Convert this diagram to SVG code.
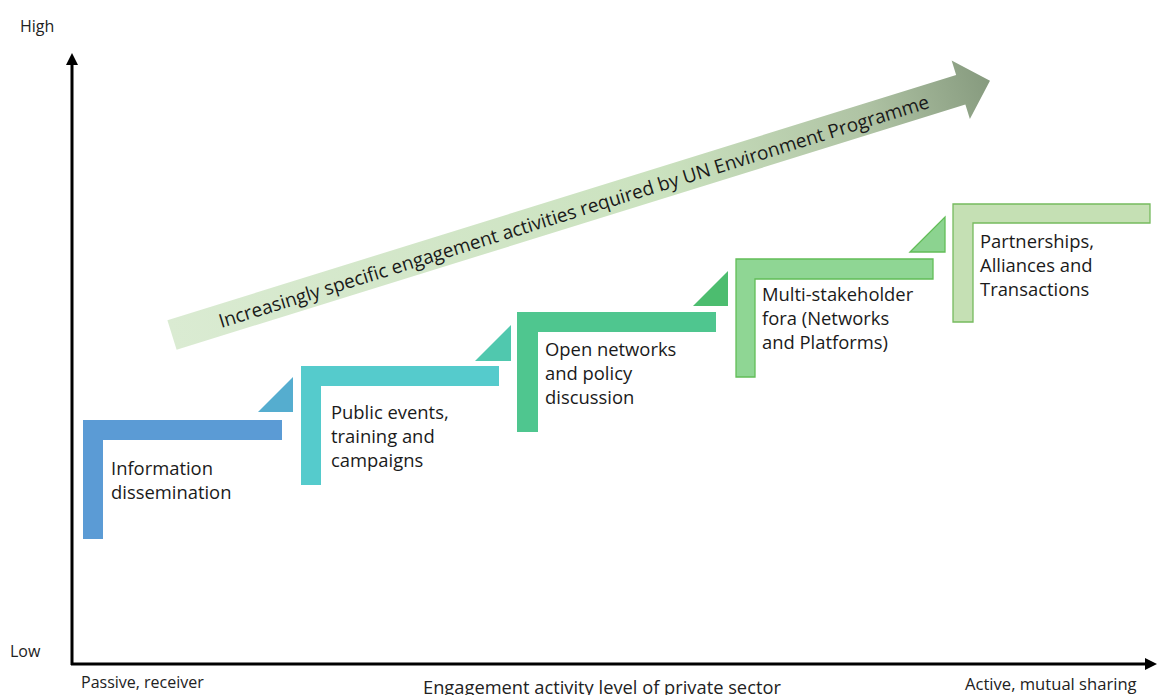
<svg xmlns="http://www.w3.org/2000/svg" width="1157" height="695" viewBox="0 0 1157 695">
<style>
  text { font-family: "Open Sans", "Noto Sans", sans-serif; fill: #1a1a1a; }
  .lbl { font-size: 18.4px; }
  .ax { font-size: 16px; fill: #222; }
  .axis { stroke: #000; stroke-width: 3; fill: none; }
  .outl { stroke-width: 1.3; }
</style>
<defs>
  <linearGradient id="arrowGrad" x1="0" y1="0" x2="857" y2="0" gradientUnits="userSpaceOnUse">
    <stop offset="0" stop-color="#DAEBD2"/>
    <stop offset="0.6" stop-color="#CBE2BF"/>
    <stop offset="0.85" stop-color="#AFC3A4"/>
    <stop offset="1" stop-color="#869A7E"/>
  </linearGradient>
</defs>
<rect width="1157" height="695" fill="#ffffff"/>

<g id="connectors">
  <line class="axis" x1="72" y1="665" x2="72" y2="62"/>
  <polygon points="72,53 66,65 78,65" fill="#000"/>
  <line class="axis" x1="71" y1="664" x2="1147" y2="664"/>
  <polygon points="1157,664 1145,658 1145,670" fill="#000"/>
</g>

<g id="trend-arrow">
  <g transform="translate(172,335) rotate(-17.27)">
    <polygon points="0,-15.5 826,-15.5 826,-30.7 856.6,0 826,30.7 826,15.5 0,15.5" fill="url(#arrowGrad)"/>
    <text x="49" y="8" style="font-size:19px">Increasingly specific engagement activities required by UN Environment Programme</text>
  </g>
</g>

<g id="node-information">
  <path d="M83,420 H282 V440 H103 V539 H83 Z" fill="#5B9BD5"/>
  <path d="M258,412 L293,377 L293,412 Z" fill="#55ADCF"/>
  <text class="lbl" x="111" y="475">Information</text>
  <text class="lbl" x="111" y="499">dissemination</text>
</g>

<g id="node-public">
  <path d="M301,366 H499 V386 H321 V485 H301 Z" fill="#55CBCC"/>
  <path d="M475,361 L511,325 L511,361 Z" fill="#50C8AE"/>
  <text class="lbl" x="331" y="419">Public events,</text>
  <text class="lbl" x="331" y="443">training and</text>
  <text class="lbl" x="331" y="467">campaigns</text>
</g>

<g id="node-open">
  <path d="M517,312 H716 V332 H538 V432 H517 Z" fill="#4FC68F"/>
  <path d="M693,306 L728,271 L728,306 Z" fill="#4CBD6F"/>
  <text class="lbl" x="545" y="356">Open networks</text>
  <text class="lbl" x="545" y="380">and policy</text>
  <text class="lbl" x="545" y="404">discussion</text>
</g>

<g id="node-multi">
  <path class="outl" d="M736,259 H933 V279 H755 V377 H736 Z" fill="#8FD694" stroke="#62BD57"/>
  <path class="outl" d="M910,252 L945,217 L945,252 Z" fill="#8CD390" stroke="#62BD57"/>
  <text class="lbl" x="762" y="301">Multi-stakeholder</text>
  <text class="lbl" x="762" y="325">fora (Networks</text>
  <text class="lbl" x="762" y="349">and Platforms)</text>
</g>

<g id="node-partnerships">
  <path class="outl" d="M953,204 H1150 V223 H973 V322 H953 Z" fill="#C5E0B4" stroke="#76BA5E"/>
  <text class="lbl" x="980" y="248">Partnerships,</text>
  <text class="lbl" x="980" y="272">Alliances and</text>
  <text class="lbl" x="980" y="296">Transactions</text>
</g>

<g id="axis-labels">
  <text class="ax" x="20" y="32">High</text>
  <text class="ax" x="10" y="657">Low</text>
  <text class="ax" x="81" y="688">Passive, receiver</text>
  <text class="ax" x="423" y="694" style="font-size:18.3px">Engagement activity level of private sector</text>
  <text class="ax" x="965" y="690" style="font-size:16.6px">Active, mutual sharing</text>
</g>
</svg>
